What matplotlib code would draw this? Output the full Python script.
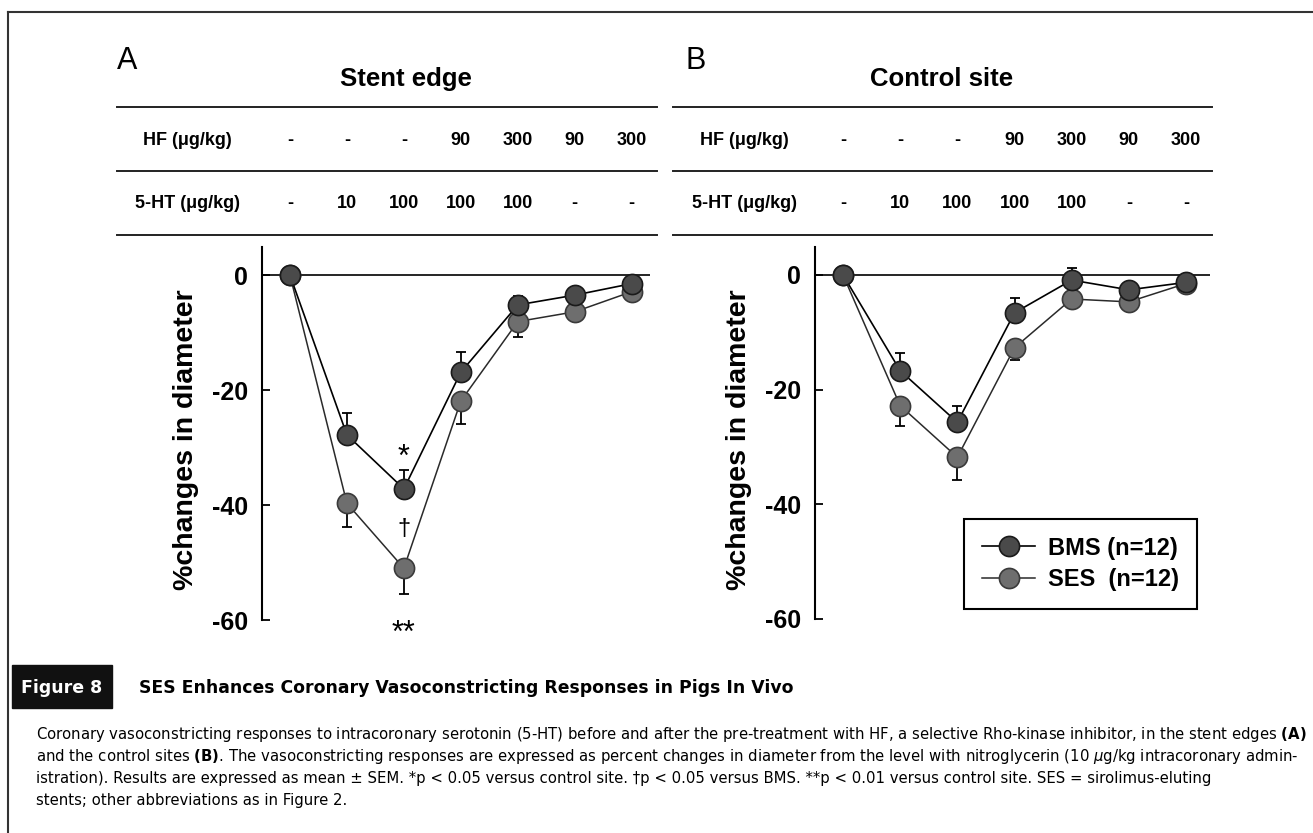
import numpy as np
import matplotlib
matplotlib.use('Agg')
import matplotlib.pyplot as plt
from matplotlib.lines import Line2D
from matplotlib.patches import Rectangle
from matplotlib.transforms import blended_transform_factory

plt.rcParams['font.family'] = ['Liberation Sans', 'DejaVu Sans']
plt.rcParams['axes.unicode_minus'] = False

W, H = 1313, 833

# treatment protocol (table above each panel)
hf_doses = ['-', '-', '-', '90', '300', '90', '300']
ht_doses = ['-', '10', '100', '100', '100', '-', '-']
steps = np.arange(len(hf_doses))

# panel A: stent edge, % change in diameter (mean, SEM)
a_bms = [0, -27.8, -37.2, -16.9, -5.2, -3.5, -1.5]
a_bms_sem = [0, 3.8, 3.3, 3.5, 1.5, 1.0, 0.8]
a_ses = [0, -39.7, -51.0, -21.9, -8.1, -6.4, -2.9]
a_ses_sem = [0, 4.1, 4.5, 4.0, 2.7, 1.2, 1.0]

# panel B: control site
b_bms = [0, -16.7, -25.7, -6.6, -0.9, -2.6, -1.3]
b_bms_sem = [0, 3.1, 2.9, 2.6, 2.1, 1.0, 0.8]
b_ses = [0, -22.8, -31.8, -12.7, -4.2, -4.7, -1.5]
b_ses_sem = [0, 3.6, 3.9, 2.1, 1.0, 1.2, 0.8]

# significance symbols in panel A
sig_step = [2, 2, 2]
sig_y = [-33.2, -45.2, -63.8]
sig_txt = ['*', '\u2020', '**']

caption = [
    r'Coronary vasoconstricting responses to intracoronary serotonin (5-HT) before and after the pre-treatment with HF, a selective Rho-kinase inhibitor, in the stent edges $\mathbf{(A)}$',
    r'and the control sites $\mathbf{(B)}$. The vasoconstricting responses are expressed as percent changes in diameter from the level with nitroglycerin (10 $\mu$g/kg intracoronary admin-',
    'istration). Results are expressed as mean \u00b1 SEM. *p < 0.05 versus control site. \u2020p < 0.05 versus BMS. **p < 0.01 versus control site. SES = sirolimus-eluting',
    'stents; other abbreviations as in Figure 2.',
]

fig = plt.figure(figsize=(W / 100, H / 100), dpi=100)
renderer = fig.canvas.get_renderer()


def fy(py):
    return 1 - py / H


def px_axes(left, top, right, bottom):
    return fig.add_axes([left / W, 1 - bottom / H, (right - left) / W, (bottom - top) / H])


def hline(x0, x1, y, lw=1.4, color='#222222'):
    fig.add_artist(Line2D([x0 / W, x1 / W], [fy(y), fy(y)], transform=fig.transFigure,
                          color=color, lw=lw))


def draw_panel(ax, bms, bms_sem, ses, ses_sem, xlim):
    z = np.zeros(len(steps))
    ax.axhline(0, color='black', lw=1.2, zorder=1)
    ax.errorbar(steps, bms, yerr=[z, bms_sem], fmt='none', ecolor='black',
                elinewidth=1.3, capsize=3.5, capthick=1.3, zorder=2)
    ax.errorbar(steps, ses, yerr=[ses_sem, z], fmt='none', ecolor='black',
                elinewidth=1.3, capsize=3.5, capthick=1.3, zorder=2)
    l_ses, = ax.plot(steps, ses, color='#2a2a2a', lw=1.1, marker='o', ms=14.5,
                     mfc='#6e6e6e', mec='#3a3a3a', mew=1.2, zorder=3, label='SES  (n=12)')
    l_bms, = ax.plot(steps, bms, color='black', lw=1.2, marker='o', ms=14.5,
                     mfc='#4a4a4a', mec='#1a1a1a', mew=1.2, zorder=4, label='BMS (n=12)')
    ax.set_xlim(*xlim)
    ax.set_ylim(-60, 4.87)
    for s in ['top', 'right', 'bottom']:
        ax.spines[s].set_visible(False)
    ax.spines['left'].set_linewidth(1.5)
    ax.set_xticks([])
    ax.set_yticks([0, -20, -40, -60])
    ax.tick_params(axis='y', direction='in', length=6, width=1.3, pad=10, labelsize=18)
    for lbl in ax.get_yticklabels():
        lbl.set_fontweight('bold')
    ax.patch.set_alpha(0)
    return l_bms, l_ses


def draw_table(ax, x0, x1, label_x):
    for y in [107, 171, 235]:
        hline(x0, x1, y)
    trans = blended_transform_factory(ax.transData, fig.transFigure)
    fig.text(label_x / W, fy(140), 'HF (\u03bcg/kg)', ha='center', va='center',
             fontsize=13, fontweight='bold')
    fig.text(label_x / W, fy(203), '5-HT (\u03bcg/kg)', ha='center', va='center',
             fontsize=13, fontweight='bold')
    for i in steps:
        ax.text(i, fy(140), hf_doses[i], transform=trans, ha='center', va='center',
                fontsize=13, fontweight='bold', clip_on=False)
        ax.text(i, fy(203), ht_doses[i], transform=trans, ha='center', va='center',
                fontsize=13, fontweight='bold', clip_on=False)


# page frame
hline(8, W, 12, lw=1.5, color='#333333')
fig.add_artist(Line2D([8 / W, 8 / W], [fy(12), 0], transform=fig.transFigure,
                      color='#333333', lw=1.5))

# panel A
ax_a = px_axes(262, 247, 650, 620)
draw_panel(ax_a, a_bms, a_bms_sem, a_ses, a_ses_sem, (-0.49, 6.32))
draw_table(ax_a, 117, 657, 187)
for sx, sy, st in zip(sig_step, sig_y, sig_txt):
    ax_a.text(sx, sy, st, ha='center', va='baseline', fontsize=22 if '*' in st else 17,
              clip_on=False)
fig.text(117 / W, fy(61), 'A', fontsize=22, va='center', ha='left')
fig.text(406 / W, fy(79), 'Stent edge', fontsize=18.5, fontweight='bold', ha='center', va='center')
fig.text(186 / W, fy(440), '%changes in diameter', rotation=90, fontsize=20.5,
         fontweight='bold', ha='center', va='center')

# panel B
ax_b = px_axes(815, 247, 1210, 619)
l_bms, l_ses = draw_panel(ax_b, b_bms, b_bms_sem, b_ses, b_ses_sem, (-0.49, 6.42))
draw_table(ax_b, 673, 1212, 744)
fig.text(685 / W, fy(61), 'B', fontsize=22, va='center', ha='left')
fig.text(942 / W, fy(79), 'Control site', fontsize=18.5, fontweight='bold', ha='center', va='center')
fig.text(739 / W, fy(440), '%changes in diameter', rotation=90, fontsize=20.5,
         fontweight='bold', ha='center', va='center')

leg = ax_b.legend(handles=[l_bms, l_ses], loc='upper right',
                  bbox_to_anchor=(1197 / W, fy(519)), bbox_transform=fig.transFigure,
                  borderaxespad=0, fancybox=False, framealpha=1, edgecolor='black',
                  prop={'weight': 'bold', 'size': 17}, handlelength=2.25,
                  handletextpad=0.55, borderpad=0.75, labelspacing=0.35)
leg.get_frame().set_linewidth(1.5)

# caption block
fig.add_artist(Rectangle((12 / W, fy(708)), 100 / W, 43 / H, transform=fig.transFigure,
                         color='#111111'))
fig.text(62 / W, fy(688), 'Figure 8', color='white', fontsize=12.5, fontweight='bold',
         ha='center', va='center', family='DejaVu Sans')
title = fig.text(139 / W, fy(688), 'SES Enhances Coronary Vasoconstricting Responses in Pigs In Vivo',
                 fontsize=13, fontweight='bold', ha='left', va='center', family='DejaVu Sans')
bb = title.get_window_extent(renderer)
title.set_fontsize(13 * 645 / bb.width)

cap_texts = []
for k, line in enumerate(caption):
    cap_texts.append(fig.text(36 / W, fy([735, 757, 779, 801][k]), line, fontsize=10,
                              ha='left', va='center', family='DejaVu Sans'))
bb = cap_texts[0].get_window_extent(renderer)
cap_size = 10 * (1308 - 36) / bb.width
for t in cap_texts:
    t.set_fontsize(cap_size)

fig.savefig('out.png', dpi=100)
